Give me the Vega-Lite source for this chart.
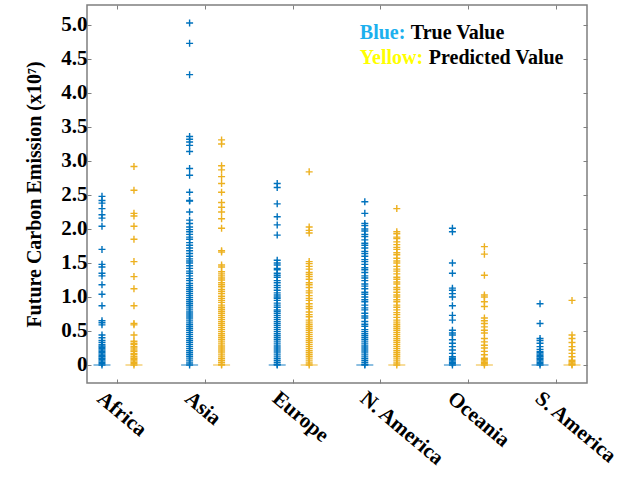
{
"$schema":"https://vega.github.io/schema/vega-lite/v6.json",
"width":500,"height":378,
"autosize":{"type":"none"},
"padding":{"left":87,"top":5,"right":48,"bottom":99},
"background":"white",
"config":{"view":{"stroke":"#7f7f7f","strokeWidth":1.5},"font":"Liberation Serif"},
"data":{"values":[
{"region":"Africa","type":"True","value":2.48},{"region":"Africa","type":"True","value":2.42},{"region":"Africa","type":"True","value":2.38},{"region":"Africa","type":"True","value":2.30},{"region":"Africa","type":"True","value":2.21},{"region":"Africa","type":"True","value":2.16},{"region":"Africa","type":"True","value":2.04},{"region":"Africa","type":"True","value":1.70},{"region":"Africa","type":"True","value":1.48},{"region":"Africa","type":"True","value":1.44},{"region":"Africa","type":"True","value":1.35},{"region":"Africa","type":"True","value":1.31},{"region":"Africa","type":"True","value":1.18},{"region":"Africa","type":"True","value":1.04},{"region":"Africa","type":"True","value":0.87},{"region":"Africa","type":"True","value":0.65},{"region":"Africa","type":"True","value":0.62},{"region":"Africa","type":"True","value":0.59},{"region":"Africa","type":"True","value":0.44},{"region":"Africa","type":"True","value":0.40},{"region":"Africa","type":"True","value":0.36},{"region":"Africa","type":"True","value":0.33},{"region":"Africa","type":"True","value":0.30},{"region":"Africa","type":"True","value":0.28},{"region":"Africa","type":"True","value":0.26},{"region":"Africa","type":"True","value":0.24},{"region":"Africa","type":"True","value":0.22},{"region":"Africa","type":"True","value":0.20},{"region":"Africa","type":"True","value":0.18},{"region":"Africa","type":"True","value":0.16},{"region":"Africa","type":"True","value":0.14},{"region":"Africa","type":"True","value":0.12},{"region":"Africa","type":"True","value":0.10},{"region":"Africa","type":"True","value":0.08},{"region":"Africa","type":"True","value":0.06},{"region":"Africa","type":"True","value":0.04},{"region":"Africa","type":"True","value":0.02},{"region":"Africa","type":"True","value":0},
{"region":"Africa","type":"Predicted","value":2.92},{"region":"Africa","type":"Predicted","value":2.57},{"region":"Africa","type":"Predicted","value":2.23},{"region":"Africa","type":"Predicted","value":2.19},{"region":"Africa","type":"Predicted","value":2.04},{"region":"Africa","type":"Predicted","value":1.85},{"region":"Africa","type":"Predicted","value":1.52},{"region":"Africa","type":"Predicted","value":1.30},{"region":"Africa","type":"Predicted","value":1.12},{"region":"Africa","type":"Predicted","value":0.87},{"region":"Africa","type":"Predicted","value":0.61},{"region":"Africa","type":"Predicted","value":0.59},{"region":"Africa","type":"Predicted","value":0.44},{"region":"Africa","type":"Predicted","value":0.35},{"region":"Africa","type":"Predicted","value":0.32},{"region":"Africa","type":"Predicted","value":0.30},{"region":"Africa","type":"Predicted","value":0.27},{"region":"Africa","type":"Predicted","value":0.25},{"region":"Africa","type":"Predicted","value":0.22},{"region":"Africa","type":"Predicted","value":0.20},{"region":"Africa","type":"Predicted","value":0.17},{"region":"Africa","type":"Predicted","value":0.15},{"region":"Africa","type":"Predicted","value":0.12},{"region":"Africa","type":"Predicted","value":0.10},{"region":"Africa","type":"Predicted","value":0.08},{"region":"Africa","type":"Predicted","value":0.06},{"region":"Africa","type":"Predicted","value":0.04},{"region":"Africa","type":"Predicted","value":0.02},{"region":"Africa","type":"Predicted","value":0},
{"region":"Asia","type":"True","value":5.03},{"region":"Asia","type":"True","value":4.73},{"region":"Asia","type":"True","value":4.27},{"region":"Asia","type":"True","value":3.36},{"region":"Asia","type":"True","value":3.32},{"region":"Asia","type":"True","value":3.28},{"region":"Asia","type":"True","value":3.23},{"region":"Asia","type":"True","value":3.14},{"region":"Asia","type":"True","value":2.89},{"region":"Asia","type":"True","value":2.79},{"region":"Asia","type":"True","value":2.54},{"region":"Asia","type":"True","value":2.42},{"region":"Asia","type":"True","value":2.41},{"region":"Asia","type":"True","value":2.25},{"region":"Asia","type":"True","value":2.13},{"region":"Asia","type":"True","value":2.08},{"region":"Asia","type":"True","value":2.03},{"region":"Asia","type":"True","value":1.99},{"region":"Asia","type":"True","value":1.96},{"region":"Asia","type":"True","value":1.92},{"region":"Asia","type":"True","value":1.88},{"region":"Asia","type":"True","value":1.85},{"region":"Asia","type":"True","value":1.80},{"region":"Asia","type":"True","value":1.76},{"region":"Asia","type":"True","value":1.72},{"region":"Asia","type":"True","value":1.68},{"region":"Asia","type":"True","value":1.64},{"region":"Asia","type":"True","value":1.60},{"region":"Asia","type":"True","value":1.56},{"region":"Asia","type":"True","value":1.53},{"region":"Asia","type":"True","value":1.50},{"region":"Asia","type":"True","value":1.46},{"region":"Asia","type":"True","value":1.42},{"region":"Asia","type":"True","value":1.38},{"region":"Asia","type":"True","value":1.35},{"region":"Asia","type":"True","value":1.31},{"region":"Asia","type":"True","value":1.27},{"region":"Asia","type":"True","value":1.24},{"region":"Asia","type":"True","value":1.20},{"region":"Asia","type":"True","value":1.17},{"region":"Asia","type":"True","value":1.14},{"region":"Asia","type":"True","value":1.11},{"region":"Asia","type":"True","value":1.08},{"region":"Asia","type":"True","value":1.05},{"region":"Asia","type":"True","value":1.02},{"region":"Asia","type":"True","value":0.99},{"region":"Asia","type":"True","value":0.96},{"region":"Asia","type":"True","value":0.93},{"region":"Asia","type":"True","value":0.90},{"region":"Asia","type":"True","value":0.87},{"region":"Asia","type":"True","value":0.84},{"region":"Asia","type":"True","value":0.81},{"region":"Asia","type":"True","value":0.78},{"region":"Asia","type":"True","value":0.75},{"region":"Asia","type":"True","value":0.72},{"region":"Asia","type":"True","value":0.69},{"region":"Asia","type":"True","value":0.66},{"region":"Asia","type":"True","value":0.63},{"region":"Asia","type":"True","value":0.60},{"region":"Asia","type":"True","value":0.57},{"region":"Asia","type":"True","value":0.54},{"region":"Asia","type":"True","value":0.51},{"region":"Asia","type":"True","value":0.48},{"region":"Asia","type":"True","value":0.45},{"region":"Asia","type":"True","value":0.42},{"region":"Asia","type":"True","value":0.39},{"region":"Asia","type":"True","value":0.36},{"region":"Asia","type":"True","value":0.33},{"region":"Asia","type":"True","value":0.30},{"region":"Asia","type":"True","value":0.27},{"region":"Asia","type":"True","value":0.24},{"region":"Asia","type":"True","value":0.21},{"region":"Asia","type":"True","value":0.18},{"region":"Asia","type":"True","value":0.15},{"region":"Asia","type":"True","value":0.12},{"region":"Asia","type":"True","value":0.09},{"region":"Asia","type":"True","value":0.06},{"region":"Asia","type":"True","value":0.03},{"region":"Asia","type":"True","value":0},
{"region":"Asia","type":"Predicted","value":3.31},{"region":"Asia","type":"Predicted","value":3.25},{"region":"Asia","type":"Predicted","value":2.93},{"region":"Asia","type":"Predicted","value":2.87},{"region":"Asia","type":"Predicted","value":2.77},{"region":"Asia","type":"Predicted","value":2.67},{"region":"Asia","type":"Predicted","value":2.54},{"region":"Asia","type":"Predicted","value":2.39},{"region":"Asia","type":"Predicted","value":2.32},{"region":"Asia","type":"Predicted","value":2.25},{"region":"Asia","type":"Predicted","value":2.15},{"region":"Asia","type":"Predicted","value":2.01},{"region":"Asia","type":"Predicted","value":1.68},{"region":"Asia","type":"Predicted","value":1.66},{"region":"Asia","type":"Predicted","value":1.47},{"region":"Asia","type":"Predicted","value":1.44},{"region":"Asia","type":"Predicted","value":1.37},{"region":"Asia","type":"Predicted","value":1.34},{"region":"Asia","type":"Predicted","value":1.31},{"region":"Asia","type":"Predicted","value":1.28},{"region":"Asia","type":"Predicted","value":1.25},{"region":"Asia","type":"Predicted","value":1.21},{"region":"Asia","type":"Predicted","value":1.18},{"region":"Asia","type":"Predicted","value":1.15},{"region":"Asia","type":"Predicted","value":1.11},{"region":"Asia","type":"Predicted","value":1.08},{"region":"Asia","type":"Predicted","value":1.05},{"region":"Asia","type":"Predicted","value":1.01},{"region":"Asia","type":"Predicted","value":0.98},{"region":"Asia","type":"Predicted","value":0.95},{"region":"Asia","type":"Predicted","value":0.92},{"region":"Asia","type":"Predicted","value":0.88},{"region":"Asia","type":"Predicted","value":0.85},{"region":"Asia","type":"Predicted","value":0.82},{"region":"Asia","type":"Predicted","value":0.79},{"region":"Asia","type":"Predicted","value":0.76},{"region":"Asia","type":"Predicted","value":0.73},{"region":"Asia","type":"Predicted","value":0.70},{"region":"Asia","type":"Predicted","value":0.67},{"region":"Asia","type":"Predicted","value":0.64},{"region":"Asia","type":"Predicted","value":0.61},{"region":"Asia","type":"Predicted","value":0.58},{"region":"Asia","type":"Predicted","value":0.55},{"region":"Asia","type":"Predicted","value":0.52},{"region":"Asia","type":"Predicted","value":0.49},{"region":"Asia","type":"Predicted","value":0.46},{"region":"Asia","type":"Predicted","value":0.43},{"region":"Asia","type":"Predicted","value":0.40},{"region":"Asia","type":"Predicted","value":0.37},{"region":"Asia","type":"Predicted","value":0.34},{"region":"Asia","type":"Predicted","value":0.31},{"region":"Asia","type":"Predicted","value":0.28},{"region":"Asia","type":"Predicted","value":0.25},{"region":"Asia","type":"Predicted","value":0.22},{"region":"Asia","type":"Predicted","value":0.19},{"region":"Asia","type":"Predicted","value":0.16},{"region":"Asia","type":"Predicted","value":0.13},{"region":"Asia","type":"Predicted","value":0.10},{"region":"Asia","type":"Predicted","value":0.07},{"region":"Asia","type":"Predicted","value":0.04},{"region":"Asia","type":"Predicted","value":0.01},{"region":"Asia","type":"Predicted","value":0},
{"region":"Europe","type":"True","value":2.67},{"region":"Europe","type":"True","value":2.61},{"region":"Europe","type":"True","value":2.37},{"region":"Europe","type":"True","value":2.18},{"region":"Europe","type":"True","value":2.06},{"region":"Europe","type":"True","value":1.91},{"region":"Europe","type":"True","value":1.54},{"region":"Europe","type":"True","value":1.50},{"region":"Europe","type":"True","value":1.47},{"region":"Europe","type":"True","value":1.42},{"region":"Europe","type":"True","value":1.40},{"region":"Europe","type":"True","value":1.35},{"region":"Europe","type":"True","value":1.32},{"region":"Europe","type":"True","value":1.29},{"region":"Europe","type":"True","value":1.24},{"region":"Europe","type":"True","value":1.21},{"region":"Europe","type":"True","value":1.17},{"region":"Europe","type":"True","value":1.14},{"region":"Europe","type":"True","value":1.10},{"region":"Europe","type":"True","value":1.06},{"region":"Europe","type":"True","value":1.03},{"region":"Europe","type":"True","value":1.00},{"region":"Europe","type":"True","value":0.98},{"region":"Europe","type":"True","value":0.95},{"region":"Europe","type":"True","value":0.91},{"region":"Europe","type":"True","value":0.88},{"region":"Europe","type":"True","value":0.85},{"region":"Europe","type":"True","value":0.81},{"region":"Europe","type":"True","value":0.79},{"region":"Europe","type":"True","value":0.76},{"region":"Europe","type":"True","value":0.73},{"region":"Europe","type":"True","value":0.70},{"region":"Europe","type":"True","value":0.67},{"region":"Europe","type":"True","value":0.64},{"region":"Europe","type":"True","value":0.61},{"region":"Europe","type":"True","value":0.58},{"region":"Europe","type":"True","value":0.55},{"region":"Europe","type":"True","value":0.52},{"region":"Europe","type":"True","value":0.49},{"region":"Europe","type":"True","value":0.46},{"region":"Europe","type":"True","value":0.43},{"region":"Europe","type":"True","value":0.40},{"region":"Europe","type":"True","value":0.37},{"region":"Europe","type":"True","value":0.34},{"region":"Europe","type":"True","value":0.31},{"region":"Europe","type":"True","value":0.28},{"region":"Europe","type":"True","value":0.25},{"region":"Europe","type":"True","value":0.22},{"region":"Europe","type":"True","value":0.19},{"region":"Europe","type":"True","value":0.16},{"region":"Europe","type":"True","value":0.13},{"region":"Europe","type":"True","value":0.10},{"region":"Europe","type":"True","value":0.07},{"region":"Europe","type":"True","value":0.04},{"region":"Europe","type":"True","value":0.01},{"region":"Europe","type":"True","value":0},
{"region":"Europe","type":"Predicted","value":2.84},{"region":"Europe","type":"Predicted","value":2.03},{"region":"Europe","type":"Predicted","value":1.98},{"region":"Europe","type":"Predicted","value":1.94},{"region":"Europe","type":"Predicted","value":1.52},{"region":"Europe","type":"Predicted","value":1.49},{"region":"Europe","type":"Predicted","value":1.45},{"region":"Europe","type":"Predicted","value":1.41},{"region":"Europe","type":"Predicted","value":1.36},{"region":"Europe","type":"Predicted","value":1.33},{"region":"Europe","type":"Predicted","value":1.30},{"region":"Europe","type":"Predicted","value":1.26},{"region":"Europe","type":"Predicted","value":1.21},{"region":"Europe","type":"Predicted","value":1.18},{"region":"Europe","type":"Predicted","value":1.14},{"region":"Europe","type":"Predicted","value":1.09},{"region":"Europe","type":"Predicted","value":1.06},{"region":"Europe","type":"Predicted","value":1.02},{"region":"Europe","type":"Predicted","value":0.98},{"region":"Europe","type":"Predicted","value":0.95},{"region":"Europe","type":"Predicted","value":0.90},{"region":"Europe","type":"Predicted","value":0.86},{"region":"Europe","type":"Predicted","value":0.83},{"region":"Europe","type":"Predicted","value":0.78},{"region":"Europe","type":"Predicted","value":0.74},{"region":"Europe","type":"Predicted","value":0.71},{"region":"Europe","type":"Predicted","value":0.66},{"region":"Europe","type":"Predicted","value":0.63},{"region":"Europe","type":"Predicted","value":0.60},{"region":"Europe","type":"Predicted","value":0.57},{"region":"Europe","type":"Predicted","value":0.54},{"region":"Europe","type":"Predicted","value":0.51},{"region":"Europe","type":"Predicted","value":0.48},{"region":"Europe","type":"Predicted","value":0.45},{"region":"Europe","type":"Predicted","value":0.42},{"region":"Europe","type":"Predicted","value":0.39},{"region":"Europe","type":"Predicted","value":0.36},{"region":"Europe","type":"Predicted","value":0.33},{"region":"Europe","type":"Predicted","value":0.30},{"region":"Europe","type":"Predicted","value":0.27},{"region":"Europe","type":"Predicted","value":0.24},{"region":"Europe","type":"Predicted","value":0.21},{"region":"Europe","type":"Predicted","value":0.18},{"region":"Europe","type":"Predicted","value":0.15},{"region":"Europe","type":"Predicted","value":0.12},{"region":"Europe","type":"Predicted","value":0.09},{"region":"Europe","type":"Predicted","value":0.06},{"region":"Europe","type":"Predicted","value":0.03},{"region":"Europe","type":"Predicted","value":0},
{"region":"N. America","type":"True","value":2.40},{"region":"N. America","type":"True","value":2.23},{"region":"N. America","type":"True","value":2.08},{"region":"N. America","type":"True","value":2.05},{"region":"N. America","type":"True","value":2.00},{"region":"N. America","type":"True","value":1.97},{"region":"N. America","type":"True","value":1.92},{"region":"N. America","type":"True","value":1.89},{"region":"N. America","type":"True","value":1.84},{"region":"N. America","type":"True","value":1.79},{"region":"N. America","type":"True","value":1.76},{"region":"N. America","type":"True","value":1.72},{"region":"N. America","type":"True","value":1.67},{"region":"N. America","type":"True","value":1.64},{"region":"N. America","type":"True","value":1.60},{"region":"N. America","type":"True","value":1.55},{"region":"N. America","type":"True","value":1.52},{"region":"N. America","type":"True","value":1.48},{"region":"N. America","type":"True","value":1.43},{"region":"N. America","type":"True","value":1.40},{"region":"N. America","type":"True","value":1.36},{"region":"N. America","type":"True","value":1.31},{"region":"N. America","type":"True","value":1.28},{"region":"N. America","type":"True","value":1.24},{"region":"N. America","type":"True","value":1.19},{"region":"N. America","type":"True","value":1.16},{"region":"N. America","type":"True","value":1.12},{"region":"N. America","type":"True","value":1.07},{"region":"N. America","type":"True","value":1.04},{"region":"N. America","type":"True","value":1.00},{"region":"N. America","type":"True","value":0.96},{"region":"N. America","type":"True","value":0.93},{"region":"N. America","type":"True","value":0.88},{"region":"N. America","type":"True","value":0.84},{"region":"N. America","type":"True","value":0.81},{"region":"N. America","type":"True","value":0.76},{"region":"N. America","type":"True","value":0.72},{"region":"N. America","type":"True","value":0.69},{"region":"N. America","type":"True","value":0.64},{"region":"N. America","type":"True","value":0.60},{"region":"N. America","type":"True","value":0.57},{"region":"N. America","type":"True","value":0.52},{"region":"N. America","type":"True","value":0.49},{"region":"N. America","type":"True","value":0.46},{"region":"N. America","type":"True","value":0.43},{"region":"N. America","type":"True","value":0.40},{"region":"N. America","type":"True","value":0.37},{"region":"N. America","type":"True","value":0.34},{"region":"N. America","type":"True","value":0.31},{"region":"N. America","type":"True","value":0.28},{"region":"N. America","type":"True","value":0.25},{"region":"N. America","type":"True","value":0.22},{"region":"N. America","type":"True","value":0.19},{"region":"N. America","type":"True","value":0.16},{"region":"N. America","type":"True","value":0.13},{"region":"N. America","type":"True","value":0.10},{"region":"N. America","type":"True","value":0.07},{"region":"N. America","type":"True","value":0.04},{"region":"N. America","type":"True","value":0.01},{"region":"N. America","type":"True","value":0},
{"region":"N. America","type":"Predicted","value":2.30},{"region":"N. America","type":"Predicted","value":1.96},{"region":"N. America","type":"Predicted","value":1.93},{"region":"N. America","type":"Predicted","value":1.88},{"region":"N. America","type":"Predicted","value":1.86},{"region":"N. America","type":"Predicted","value":1.81},{"region":"N. America","type":"Predicted","value":1.77},{"region":"N. America","type":"Predicted","value":1.73},{"region":"N. America","type":"Predicted","value":1.70},{"region":"N. America","type":"Predicted","value":1.65},{"region":"N. America","type":"Predicted","value":1.62},{"region":"N. America","type":"Predicted","value":1.57},{"region":"N. America","type":"Predicted","value":1.53},{"region":"N. America","type":"Predicted","value":1.50},{"region":"N. America","type":"Predicted","value":1.45},{"region":"N. America","type":"Predicted","value":1.41},{"region":"N. America","type":"Predicted","value":1.38},{"region":"N. America","type":"Predicted","value":1.34},{"region":"N. America","type":"Predicted","value":1.29},{"region":"N. America","type":"Predicted","value":1.26},{"region":"N. America","type":"Predicted","value":1.22},{"region":"N. America","type":"Predicted","value":1.19},{"region":"N. America","type":"Predicted","value":1.14},{"region":"N. America","type":"Predicted","value":1.11},{"region":"N. America","type":"Predicted","value":1.07},{"region":"N. America","type":"Predicted","value":1.03},{"region":"N. America","type":"Predicted","value":1.00},{"region":"N. America","type":"Predicted","value":0.96},{"region":"N. America","type":"Predicted","value":0.93},{"region":"N. America","type":"Predicted","value":0.88},{"region":"N. America","type":"Predicted","value":0.85},{"region":"N. America","type":"Predicted","value":0.81},{"region":"N. America","type":"Predicted","value":0.77},{"region":"N. America","type":"Predicted","value":0.74},{"region":"N. America","type":"Predicted","value":0.70},{"region":"N. America","type":"Predicted","value":0.66},{"region":"N. America","type":"Predicted","value":0.63},{"region":"N. America","type":"Predicted","value":0.60},{"region":"N. America","type":"Predicted","value":0.57},{"region":"N. America","type":"Predicted","value":0.54},{"region":"N. America","type":"Predicted","value":0.51},{"region":"N. America","type":"Predicted","value":0.48},{"region":"N. America","type":"Predicted","value":0.45},{"region":"N. America","type":"Predicted","value":0.42},{"region":"N. America","type":"Predicted","value":0.39},{"region":"N. America","type":"Predicted","value":0.36},{"region":"N. America","type":"Predicted","value":0.33},{"region":"N. America","type":"Predicted","value":0.30},{"region":"N. America","type":"Predicted","value":0.27},{"region":"N. America","type":"Predicted","value":0.24},{"region":"N. America","type":"Predicted","value":0.21},{"region":"N. America","type":"Predicted","value":0.18},{"region":"N. America","type":"Predicted","value":0.15},{"region":"N. America","type":"Predicted","value":0.12},{"region":"N. America","type":"Predicted","value":0.09},{"region":"N. America","type":"Predicted","value":0.06},{"region":"N. America","type":"Predicted","value":0.03},{"region":"N. America","type":"Predicted","value":0},
{"region":"Oceania","type":"True","value":2.01},{"region":"Oceania","type":"True","value":1.96},{"region":"Oceania","type":"True","value":1.50},{"region":"Oceania","type":"True","value":1.35},{"region":"Oceania","type":"True","value":1.13},{"region":"Oceania","type":"True","value":1.10},{"region":"Oceania","type":"True","value":1.05},{"region":"Oceania","type":"True","value":1.00},{"region":"Oceania","type":"True","value":0.87},{"region":"Oceania","type":"True","value":0.73},{"region":"Oceania","type":"True","value":0.66},{"region":"Oceania","type":"True","value":0.51},{"region":"Oceania","type":"True","value":0.47},{"region":"Oceania","type":"True","value":0.44},{"region":"Oceania","type":"True","value":0.37},{"region":"Oceania","type":"True","value":0.32},{"region":"Oceania","type":"True","value":0.27},{"region":"Oceania","type":"True","value":0.22},{"region":"Oceania","type":"True","value":0.17},{"region":"Oceania","type":"True","value":0.12},{"region":"Oceania","type":"True","value":0.10},{"region":"Oceania","type":"True","value":0.08},{"region":"Oceania","type":"True","value":0.06},{"region":"Oceania","type":"True","value":0.04},{"region":"Oceania","type":"True","value":0.02},{"region":"Oceania","type":"True","value":0},
{"region":"Oceania","type":"Predicted","value":1.74},{"region":"Oceania","type":"Predicted","value":1.63},{"region":"Oceania","type":"Predicted","value":1.32},{"region":"Oceania","type":"Predicted","value":1.03},{"region":"Oceania","type":"Predicted","value":1.00},{"region":"Oceania","type":"Predicted","value":0.93},{"region":"Oceania","type":"Predicted","value":0.86},{"region":"Oceania","type":"Predicted","value":0.69},{"region":"Oceania","type":"Predicted","value":0.65},{"region":"Oceania","type":"Predicted","value":0.61},{"region":"Oceania","type":"Predicted","value":0.56},{"region":"Oceania","type":"Predicted","value":0.51},{"region":"Oceania","type":"Predicted","value":0.47},{"region":"Oceania","type":"Predicted","value":0.39},{"region":"Oceania","type":"Predicted","value":0.34},{"region":"Oceania","type":"Predicted","value":0.29},{"region":"Oceania","type":"Predicted","value":0.25},{"region":"Oceania","type":"Predicted","value":0.20},{"region":"Oceania","type":"Predicted","value":0.15},{"region":"Oceania","type":"Predicted","value":0.10},{"region":"Oceania","type":"Predicted","value":0.08},{"region":"Oceania","type":"Predicted","value":0.06},{"region":"Oceania","type":"Predicted","value":0.04},{"region":"Oceania","type":"Predicted","value":0.02},{"region":"Oceania","type":"Predicted","value":0},
{"region":"S. America","type":"True","value":0.90},{"region":"S. America","type":"True","value":0.61},{"region":"S. America","type":"True","value":0.39},{"region":"S. America","type":"True","value":0.36},{"region":"S. America","type":"True","value":0.32},{"region":"S. America","type":"True","value":0.27},{"region":"S. America","type":"True","value":0.23},{"region":"S. America","type":"True","value":0.20},{"region":"S. America","type":"True","value":0.18},{"region":"S. America","type":"True","value":0.16},{"region":"S. America","type":"True","value":0.14},{"region":"S. America","type":"True","value":0.12},{"region":"S. America","type":"True","value":0.10},{"region":"S. America","type":"True","value":0.08},{"region":"S. America","type":"True","value":0.06},{"region":"S. America","type":"True","value":0.04},{"region":"S. America","type":"True","value":0.02},{"region":"S. America","type":"True","value":0},
{"region":"S. America","type":"Predicted","value":0.95},{"region":"S. America","type":"Predicted","value":0.44},{"region":"S. America","type":"Predicted","value":0.39},{"region":"S. America","type":"Predicted","value":0.33},{"region":"S. America","type":"Predicted","value":0.27},{"region":"S. America","type":"Predicted","value":0.22},{"region":"S. America","type":"Predicted","value":0.17},{"region":"S. America","type":"Predicted","value":0.12},{"region":"S. America","type":"Predicted","value":0.07},{"region":"S. America","type":"Predicted","value":0.05},{"region":"S. America","type":"Predicted","value":0.03},{"region":"S. America","type":"Predicted","value":0.01},{"region":"S. America","type":"Predicted","value":0}
]},
"layer":[
{"mark":{"type":"point","shape":"M-1,0H1M0,-1V1","filled":false,"size":49,"strokeWidth":1.4,"opacity":1},
 "encoding":{
  "x":{"field":"region","type":"nominal","sort":null,
    "scale":{"domain":["Africa","Asia","Europe","N. America","Oceania","S. America"],"range":[-1,501],"paddingInner":0.27,"paddingOuter":0},
    "axis":{"orient":"bottom","title":null,"domain":false,"ticks":true,"tickSize":-4,"tickColor":"#7f7f7f","labelAngle":40,"labelAlign":"left","labelBaseline":"top","labelFont":"Liberation Serif","labelFontWeight":"bold","labelFontSize":21,"labelColor":"black","labelPadding":8,"labelOffset":-11}},
  "xOffset":{"field":"type","type":"nominal","scale":{"domain":["True","Predicted"],"paddingInner":0,"paddingOuter":0}},
  "y":{"field":"value","type":"quantitative","scale":{"domain":[-0.265,5.294],"nice":false,"zero":false},
    "axis":{"orient":"left","values":[0,0.5,1,1.5,2,2.5,3,3.5,4,4.5,5],"labelExpr":"datum.value == 0 ? '0' : format(datum.value, '.1f')","grid":false,"domain":false,"tickSize":-4,"tickColor":"#7f7f7f","labelFont":"Liberation Serif","labelFontSize":21,"labelFontWeight":"bold","labelColor":"black","labelPadding":4,"title":"Future Carbon Emission (x10⁷)","titleFont":"Liberation Serif","titleFontSize":20,"titleFontWeight":"bold","titleColor":"black","titlePadding":16}},
  "color":{"field":"type","type":"nominal","scale":{"domain":["True","Predicted"],"range":["#0072BD","#EDB120"]},"legend":null}
 }},
{"mark":{"type":"tick","size":17,"thickness":2,"opacity":0.45},
 "encoding":{
  "x":{"field":"region","type":"nominal","sort":null,"axis":{"orient":"top","title":null,"labels":false,"domain":false,"tickSize":-4,"tickColor":"#7f7f7f"}},
  "xOffset":{"field":"type","type":"nominal"},
  "y":{"aggregate":"min","field":"value","type":"quantitative","axis":{"orient":"right","title":null,"labels":false,"domain":false,"grid":false,"values":[0,0.5,1,1.5,2,2.5,3,3.5,4,4.5,5],"tickSize":-4,"tickColor":"#7f7f7f"}},
  "color":{"field":"type","type":"nominal"}
 }},
{"data":{"values":[{"region":"N. America","value":4.79,"label":"Blue:"}]},
 "mark":{"type":"text","align":"left","baseline":"alphabetic","dx":-21,"font":"Liberation Serif","fontWeight":"bold","fontSize":20,"color":"#1CB0EE"},
 "encoding":{"x":{"field":"region","type":"nominal","axis":null},"y":{"field":"value","type":"quantitative","axis":null},"text":{"field":"label"}}},
{"data":{"values":[{"region":"N. America","value":4.43,"label":"Yellow:"}]},
 "mark":{"type":"text","align":"left","baseline":"alphabetic","dx":-21,"font":"Liberation Serif","fontWeight":"bold","fontSize":20,"color":"#FFFF00"},
 "encoding":{"x":{"field":"region","type":"nominal","axis":null},"y":{"field":"value","type":"quantitative","axis":null},"text":{"field":"label"}}},
{"data":{"values":[{"region":"N. America","value":4.79,"label":"True Value"}]},
 "mark":{"type":"text","align":"left","baseline":"alphabetic","dx":30,"font":"Liberation Serif","fontWeight":"bold","fontSize":20,"color":"black"},
 "encoding":{"x":{"field":"region","type":"nominal","axis":null},"y":{"field":"value","type":"quantitative","axis":null},"text":{"field":"label"}}},
{"data":{"values":[{"region":"N. America","value":4.43,"label":"Predicted Value"}]},
 "mark":{"type":"text","align":"left","baseline":"alphabetic","dx":48,"font":"Liberation Serif","fontWeight":"bold","fontSize":20,"color":"black"},
 "encoding":{"x":{"field":"region","type":"nominal","axis":null},"y":{"field":"value","type":"quantitative","axis":null},"text":{"field":"label"}}}
],
"resolve":{"axis":{"x":"independent","y":"independent"}}
}
